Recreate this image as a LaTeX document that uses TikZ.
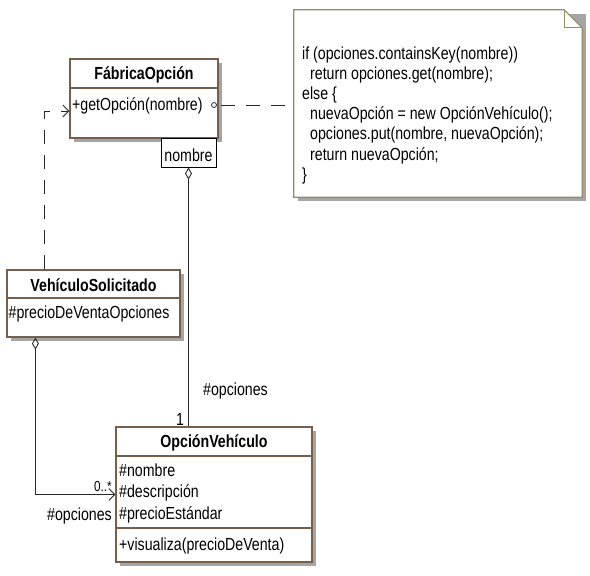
\documentclass[tikz,border=0pt]{standalone}
\usepackage{fontspec}
\setmainfont{Liberation Sans}[FakeStretch=0.81]
\usetikzlibrary{arrows.meta,shadows}
\definecolor{clsborder}{RGB}{120,95,75}
\definecolor{notebord}{RGB}{150,140,100}
\definecolor{shadowgray}{RGB}{165,165,165}
\definecolor{linecol}{RGB}{40,40,40}
\tikzset{
  cls/.style={draw=clsborder, line width=1.2pt, fill=white, inner sep=0pt,
    drop shadow={shadow xshift=3.5pt, shadow yshift=-3.5pt, opacity=1, fill=shadowgray}},
  txt/.style={inner sep=0pt, font=\fontsize{17.5}{20.1}\selectfont},
  ttl/.style={txt, font=\fontsize{17.5}{20.1}\selectfont\bfseries},
  lbl/.style={txt},
  small/.style={inner sep=0pt, font=\fontsize{14.5}{16}\selectfont},
  divider/.style={draw=clsborder, line width=1.2pt},
  assoc/.style={draw=linecol, line width=0.9pt},
  dep/.style={draw=linecol, line width=1pt, dash pattern=on 14pt off 11pt},
  barb/.style={-{Straight Barb[length=6pt,width=12pt,line width=0.9pt]}},
}
\begin{document}
\begin{tikzpicture}[x=1pt,y=-1pt]
\useasboundingbox (0,0) rectangle (590,576);

% ---------- Note ----------
\node[inner sep=0pt, minimum width=288pt, minimum height=187pt] (note) at (438,103.5) {};
\fill[shadowgray] ([shift={(4pt,-4pt)}]note.north west) -- ([shift={(4pt,-4pt)}]note.north east) -- ([shift={(4pt,-4pt)}]note.south east) -- ([shift={(4pt,-4pt)}]note.south west) -- cycle;
\draw[notebord, line width=1.2pt, fill=white]
  (note.north west) -- ([xshift=-18pt]note.north east) -- ([yshift=-18pt]note.north east)
  -- (note.south east) -- (note.south west) -- cycle;
\draw[notebord, line width=1pt]
  ([xshift=-18pt]note.north east) -- ([xshift=-18pt,yshift=-18pt]note.north east) -- ([yshift=-18pt]note.north east);
\node[txt, anchor=base west] (l1) at (302,59.5) {if (opciones.containsKey(nombre))};
\node[txt, anchor=base west] (l2) at (310,79.6) {return opciones.get(nombre);};
\node[txt, anchor=base west] (l3) at (302,99.7) {else \{};
\node[txt, anchor=base west] (l4) at (310,119.8) {nuevaOpción = new OpciónVehículo();};
\node[txt, anchor=base west] (l5) at (310,139.9) {opciones.put(nombre, nuevaOpción);};
\node[txt, anchor=base west] (l6) at (310,160) {return nuevaOpción;};
\node[txt, anchor=base west] (l7) at (302,180.1) {\}};

% ---------- FábricaOpción ----------
\node[cls, minimum width=148pt, minimum height=79pt] (fab) at (144,98.5) {};
\draw[divider] (70,88) -- (218,88);
\node[ttl, anchor=base] (fabt) at (144,79) {FábricaOpción};
\node[txt, anchor=base west] (fabm) at (72,110) {+getOpción(nombre)};
\node[draw=black, line width=1pt, fill=white, minimum width=55pt, minimum height=29pt, inner sep=0pt] (qual) at (188.5,152.5) {};
\node[txt, anchor=base] (qualt) at (188.5,161) {nombre};
\node[circle, draw=linecol, line width=0.8pt, fill=white, inner sep=0pt, minimum size=5pt] (anc) at (214,105) {};

% ---------- VehículoSolicitado ----------
\node[cls, minimum width=173pt, minimum height=67pt] (vs) at (93.5,303.5) {};
\draw[divider] (7,298) -- (180,298);
\node[ttl, anchor=base] (vst) at (93.5,291) {VehículoSolicitado};
\node[txt, anchor=base west] (vsa) at (8.5,318.5) {\#precioDeVentaOpciones};

% ---------- OpciónVehículo ----------
\node[cls, minimum width=196pt, minimum height=135pt] (ov) at (214,494.5) {};
\draw[divider] (116,456) -- (312,456);
\draw[divider] (116,528) -- (312,528);
\node[ttl, anchor=base] (ovt) at (214,447.5) {OpciónVehículo};
\node[txt, anchor=base west] (ova1) at (119,476) {\#nombre};
\node[txt, anchor=base west] (ova2) at (119,497.5) {\#descripción};
\node[txt, anchor=base west] (ova3) at (119,519) {\#precioEstándar};
\node[txt, anchor=base west] (ovm) at (119,550) {+visualiza(precioDeVenta)};

% ---------- Connectors ----------
\draw[dep] ([xshift=4pt]anc.east) -- (anc.east -| note.west);
\draw[dep, barb] ([xshift=38pt]vs.north west) |- ([yshift=-12.5pt]fab.west);
\draw[assoc, {Diamond[open,length=12pt,width=7pt,line width=0.9pt]}-] (qual.south) -- (qual.south |- ov.north);
\draw[assoc, {Diamond[open,length=12pt,width=7pt,line width=0.9pt]}-{Straight Barb[length=6pt,width=12pt,line width=0.9pt]}]
  ([xshift=29pt]vs.south west) |- (ov.west);

% ---------- Labels ----------
\node[lbl, anchor=base west] (lop1) at (203,395) {\#opciones};
\node[lbl, anchor=base] (lone) at (180,425) {1};
\node[small, anchor=base east] (lmany) at (112,491) {0..*};
\node[lbl, anchor=base east] (lop2) at (112,520) {\#opciones};
\end{tikzpicture}
\end{document}
